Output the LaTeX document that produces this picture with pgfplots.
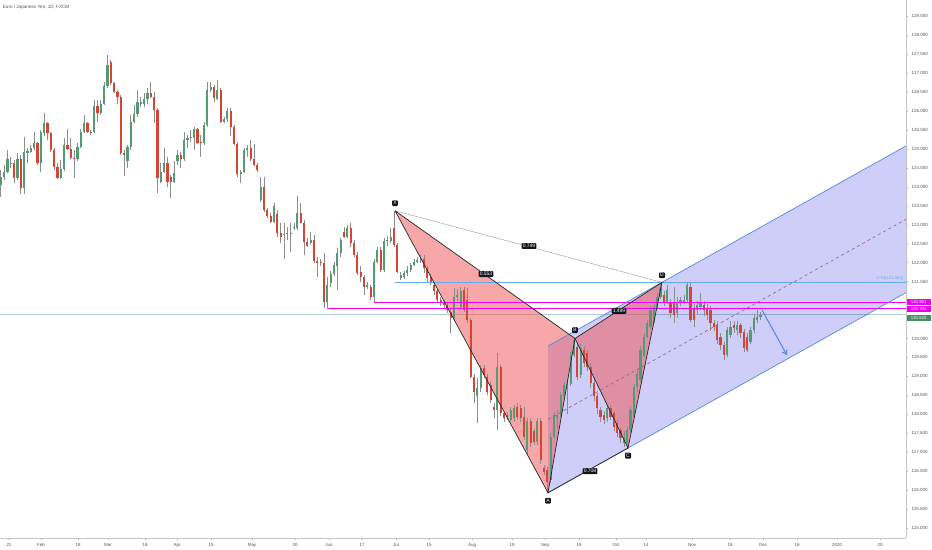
\documentclass[border=0pt]{standalone}
\usepackage{pgfplots}
\pgfplotsset{compat=1.18}
\usepackage{pgfplotstable}
\usepackage{fontspec}
\setmainfont{Liberation Sans}
\usetikzlibrary{arrows.meta}

\definecolor{upc}{RGB}{83,155,117}
\definecolor{dnc}{RGB}{214,69,52}
\definecolor{wickc}{RGB}{140,140,140}
\definecolor{chanc}{RGB}{80,80,235}
\definecolor{chanline}{RGB}{80,135,225}
\definecolor{tric}{RGB}{240,80,80}
\definecolor{magc}{RGB}{240,0,240}
\definecolor{hlblue}{RGB}{100,170,235}
\definecolor{curc}{RGB}{175,205,200}
\definecolor{curbox}{RGB}{70,140,100}
\definecolor{labc}{RGB}{20,22,30}
\definecolor{axc}{RGB}{80,83,94}
\definecolor{midc}{RGB}{150,90,130}

\tikzset{lab/.style={fill=labc, rounded corners=1bp, text=white, inner sep=1.2bp,
    font=\fontsize{5}{5.5}\selectfont}}

\pgfplotstableread{
n o h l c
1 124.05 124.45 123.74 124.27
2 124.27 124.58 124.18 124.40
3 124.40 124.97 124.36 124.73
4 124.60 124.80 124.49 124.64
5 124.62 124.71 124.09 124.24
6 124.24 124.89 124.18 124.73
7 124.73 124.84 123.81 123.96
8 123.96 125.32 123.81 124.93
9 124.90 125.02 124.62 124.95
10 124.93 125.10 124.89 125.03
11 125.03 125.46 124.97 125.15
12 125.15 125.19 124.58 124.62
13 124.62 125.50 124.40 125.46
14 125.41 125.94 125.34 125.68
15 125.68 125.72 125.24 125.41
16 125.41 125.46 124.93 124.97
17 124.97 125.02 124.45 124.53
18 124.53 124.62 124.20 124.24
19 124.24 124.71 124.20 124.46
20 124.46 125.28 124.43 125.10
21 125.10 125.54 124.97 125.00
22 125.00 125.28 124.73 124.77
23 124.77 124.97 124.24 124.73
24 124.73 125.15 124.67 125.06
25 125.06 125.54 125.02 125.46
26 125.46 125.90 125.41 125.68
27 125.68 125.72 125.41 125.46
28 125.46 125.50 125.37 125.41
29 125.46 126.29 125.41 126.13
30 126.13 126.29 125.72 125.94
31 125.94 126.29 125.90 126.20
32 126.20 126.77 126.16 126.66
33 126.66 127.48 126.60 127.21
34 127.30 127.35 126.69 126.73
35 126.73 126.77 126.47 126.51
36 126.51 126.56 126.20 126.38
37 126.38 126.42 124.84 124.89
38 124.89 124.97 124.29 124.84
39 124.67 125.10 124.49 125.04
40 125.04 125.90 124.97 125.72
41 125.72 126.16 125.68 125.91
42 125.91 126.56 125.85 126.25
43 126.20 126.38 126.12 126.25
44 126.20 126.47 126.12 126.32
45 126.32 126.60 126.20 126.47
46 126.47 126.77 126.34 126.38
47 126.38 126.51 125.68 126.03
48 126.03 126.07 123.85 124.23
49 124.14 124.62 124.09 124.40
50 124.40 125.02 124.36 124.62
51 124.62 124.80 124.00 124.14
52 124.27 124.31 123.70 124.14
53 124.14 124.67 124.09 124.36
54 124.67 124.97 124.58 124.84
55 124.84 124.93 124.49 124.73
56 124.73 125.46 124.67 125.24
57 125.24 125.37 125.02 125.28
58 125.28 125.50 125.19 125.29
59 125.28 125.59 124.97 125.52
60 125.52 125.55 125.13 125.17
61 125.17 125.37 124.80 125.15
62 125.15 125.72 125.11 125.63
63 125.63 126.78 125.59 126.56
64 126.56 126.78 126.51 126.64
65 126.64 126.69 126.25 126.34
66 126.31 126.82 126.29 126.56
67 126.56 126.60 125.68 125.70
68 125.70 125.85 125.68 125.78
69 125.78 126.07 125.72 126.01
70 126.01 126.07 125.33 125.59
71 125.59 125.63 125.11 125.13
72 125.13 125.19 124.27 124.33
73 124.33 124.45 124.11 124.38
74 124.38 125.02 124.36 124.97
75 124.97 125.11 124.80 125.02
76 125.02 125.24 124.69 124.73
77 124.73 125.13 124.55 124.58
78 124.58 124.62 124.40 124.45
79 123.65 124.27 123.61 124.01
80 124.01 124.27 123.35 123.39
81 123.39 123.43 123.18 123.22
82 123.24 123.31 123.04 123.08
83 123.08 123.57 123.04 123.50
84 123.29 123.39 122.69 122.79
85 122.79 123.04 122.51 122.69
86 122.73 123.04 122.11 122.77
87 122.76 122.95 122.60 122.78
88 122.76 123.04 122.29 122.79
89 122.91 123.04 122.86 122.93
90 122.91 123.76 122.86 123.32
91 123.32 123.57 123.04 123.06
92 123.06 123.13 122.20 122.55
93 122.55 122.64 122.42 122.44
94 122.51 122.82 122.47 122.60
95 122.60 122.73 121.98 122.05
96 122.05 122.16 121.63 122.00
97 122.00 122.10 121.90 121.98
98 122.00 122.25 120.80 120.95
99 120.95 121.63 120.784 121.41
100 121.47 121.79 121.35 121.70
101 121.70 122.03 121.65 121.94
102 121.90 122.38 121.28 122.25
103 122.25 122.64 122.16 122.60
104 122.82 122.95 122.64 122.69
105 122.69 122.99 122.64 122.91
106 122.91 123.04 122.42 122.51
107 122.51 122.60 122.16 122.20
108 122.20 122.29 121.68 121.72
109 121.76 121.90 121.50 121.61
110 121.61 121.68 121.15 121.37
111 121.37 121.50 121.30 121.41
112 121.37 121.41 121.02 121.10
113 121.10 122.11 120.951 122.03
114 122.03 122.42 121.98 122.34
115 122.34 122.42 121.76 121.81
116 121.81 122.64 121.76 122.56
117 122.56 122.70 122.45 122.58
118 122.58 122.91 122.51 122.69
119 122.91 123.37 122.42 122.47
120 122.47 122.51 121.72 121.76
121 121.59 121.76 121.54 121.68
122 121.62 121.78 121.56 121.72
123 121.72 121.90 121.66 121.82
124 121.80 122.00 121.76 121.94
125 121.94 122.10 121.90 122.03
126 122.03 122.16 121.98 122.07
127 122.07 122.20 122.00 122.11
128 122.11 122.20 121.72 121.85
129 121.85 121.90 121.50 121.59
130 121.63 121.70 121.40 121.50
131 121.41 121.50 121.15 121.24
132 121.24 121.30 120.95 121.02
133 121.02 121.10 120.85 120.93
134 120.95 121.02 120.78 120.88
135 120.88 120.95 120.68 120.75
136 120.71 120.80 120.14 120.53
137 120.53 121.32 120.45 121.10
138 121.10 121.30 121.00 121.15
139 120.84 121.37 120.78 121.24
140 121.28 121.37 120.70 120.75
141 121.02 121.32 120.40 120.49
142 120.49 120.55 118.95 118.99
143 118.99 119.05 118.30 118.60
144 118.47 118.95 117.76 118.69
145 118.69 119.30 118.60 119.21
146 119.21 119.30 118.95 119.04
147 118.99 119.05 118.50 118.60
148 118.77 118.85 118.30 118.38
149 118.20 118.30 117.90 118.11
150 118.11 119.61 117.59 119.26
151 119.26 119.30 117.95 118.03
152 118.03 118.10 117.80 117.89
153 117.98 118.05 117.85 117.94
154 117.85 118.20 117.80 118.11
155 117.89 118.25 117.80 118.16
156 118.20 118.30 117.85 117.94
157 118.16 118.25 117.80 117.89
158 117.94 118.20 117.32 117.41
159 117.06 117.90 116.95 117.81
160 117.81 117.90 117.15 117.23
161 117.55 117.60 117.20 117.28
162 117.28 117.90 117.20 117.81
163 117.81 117.90 116.70 116.79
164 116.57 116.65 116.40 116.49
165 116.53 116.60 115.93 116.22
166 116.27 117.50 116.20 117.41
167 117.41 118.05 117.35 117.98
168 117.89 118.10 117.60 117.98
169 117.98 118.60 117.90 118.51
170 118.47 118.85 118.40 118.77
171 118.77 118.95 118.00 118.81
172 118.81 119.65 118.75 119.56
173 119.56 120.00 119.50 119.95
174 119.78 119.90 118.90 118.99
175 119.04 119.85 118.95 119.74
176 119.70 119.80 119.25 119.35
177 119.61 119.70 119.15 119.26
178 119.26 119.35 118.70 118.82
179 118.82 118.95 118.35 118.47
180 118.47 118.55 118.00 118.16
181 118.11 118.20 117.80 117.94
182 117.98 118.10 117.75 117.85
183 117.89 118.25 117.80 118.16
184 118.16 118.25 117.85 117.94
185 118.03 118.10 117.55 117.67
186 117.76 117.85 117.40 117.50
187 117.59 117.65 117.25 117.37
188 117.23 117.55 117.15 117.41
189 117.23 117.70 117.12 117.59
190 117.59 118.20 117.50 118.11
191 117.94 118.80 117.90 118.73
192 118.73 119.20 118.60 119.05
193 118.90 119.80 118.85 119.70
194 119.55 120.15 119.50 120.05
195 120.05 120.50 120.00 120.40
196 120.30 120.85 120.25 120.75
197 120.44 120.95 120.40 120.84
198 120.84 121.20 120.80 121.10
199 121.10 121.48 121.05 121.37
200 121.15 121.25 120.85 120.93
201 120.97 121.40 120.90 121.28
202 120.97 121.05 120.55 120.66
203 120.97 121.37 120.40 120.62
204 120.66 121.10 120.55 120.97
205 120.93 121.10 120.85 121.02
206 120.97 121.15 120.90 121.02
207 121.02 121.50 120.95 121.41
208 121.37 121.50 120.44 120.49
209 120.80 120.90 120.30 120.49
210 120.75 121.00 120.65 120.88
211 120.84 121.19 120.75 120.93
212 120.88 121.00 120.60 120.75
213 120.80 120.90 120.50 120.62
214 120.75 120.85 120.20 120.40
215 120.40 120.50 120.20 120.31
216 120.35 120.45 119.85 119.96
217 120.05 120.15 119.70 119.83
218 119.83 119.90 119.43 119.56
219 119.56 120.30 119.50 120.22
220 120.09 120.45 120.00 120.31
221 120.35 120.45 120.15 120.27
222 120.22 120.45 120.10 120.35
223 120.35 120.40 120.00 120.14
224 120.18 120.25 119.65 119.74
225 120.05 120.15 119.65 119.70
226 119.92 120.30 119.85 120.22
227 120.22 120.65 120.15 120.53
228 120.49 120.75 120.40 120.58
229 120.58 120.70 120.50 120.625
}\candles

\begin{document}
\begin{tikzpicture}
\useasboundingbox (0,0) rectangle (932bp,550bp);
\begin{axis}[
  at={(0,550bp)}, anchor=north west,
  scale only axis, width=906bp, height=538bp,
  xmin=0, xmax=906, ymin=114.736, ymax=128.931,
  clip=false,
  axis x line=bottom, axis y line=right,
  axis line style={-, draw=gray!45, line width=0.6bp},
  tick style={draw=gray!60, line width=0.4bp},
  major tick length=2bp, tick align=outside,
  xtick={9,41,78,108,145,177,211,252,295,329,362,396,429,472,512,545,579,616,646,692,730,763,797,837,880},
  xticklabels={21,Feb,18,Mar,18,Apr,15,May,20,Jun,17,Jul,15,Aug,19,Sep,16,Oct,14,Nov,18,Dec,16,2020,20},
  ytick={115,115.5,116,116.5,117,117.5,118,118.5,119,119.5,120,121.5,122,122.5,123,123.5,124,124.5,125,125.5,126,126.5,127,127.5,128,128.5},
  /pgf/number format/assume math mode=true,
  yticklabel style={font=\fontsize{4.5}{5}\selectfont, color=axc, inner sep=1.5bp, xshift=2bp,
    /pgf/number format/fixed, /pgf/number format/fixed zerofill,
    /pgf/number format/precision=3, /pgf/number format/1000 sep={}},
  xticklabel style={font=\fontsize{4.5}{5}\selectfont, color=axc, inner sep=1.5bp, yshift=-2bp},
]
% current price line
\addplot[curc, line width=0.6bp] coordinates {(0,120.625) (906,120.625)};
% channel fill
\addplot[draw=none, fill=chanc, fill opacity=0.28] coordinates {(548,115.93) (906,121.21) (906,125.08) (548,119.80)} -- cycle;
% pattern triangles
\addplot[draw=none, fill=tric, fill opacity=0.5] coordinates {(395,123.37) (548,115.93) (575,120.00)} -- cycle;
\addplot[draw=none, fill=tric, fill opacity=0.5] coordinates {(575,120.00) (628,117.11) (662,121.48)} -- cycle;
% wicks
\addplot[draw=none, mark=none,
  error bars/.cd, y dir=plus, y explicit, error mark=none,
  error bar style={draw=wickc, line width=0.6bp}]
  table[x expr={0.7+(\thisrow{n}-1)*3.333}, y=l, y error plus expr={\thisrow{h}-\thisrow{l}}] {\candles};
% up bodies
\addplot[draw=none, mark=none,
  restrict expr to domain={\thisrow{c}-\thisrow{o}}{0:100},
  error bars/.cd, y dir=plus, y explicit, error mark=none,
  error bar style={draw=upc, line width=2.3bp}]
  table[x expr={0.7+(\thisrow{n}-1)*3.333}, y expr={min(\thisrow{o},\thisrow{c})},
        y error plus expr={max(abs(\thisrow{c}-\thisrow{o}),0.03)}] {\candles};
% down bodies
\addplot[draw=none, mark=none,
  restrict expr to domain={\thisrow{c}-\thisrow{o}}{-100:-0.00001},
  error bars/.cd, y dir=plus, y explicit, error mark=none,
  error bar style={draw=dnc, line width=2.3bp}]
  table[x expr={0.7+(\thisrow{n}-1)*3.333}, y expr={min(\thisrow{o},\thisrow{c})},
        y error plus expr={max(abs(\thisrow{c}-\thisrow{o}),0.03)}] {\candles};
% horizontal levels
\addplot[hlblue, line width=1.1bp] coordinates {(395,121.482) (906,121.482)};
\addplot[magc, line width=1.2bp] coordinates {(374,120.951) (906,120.951)};
\addplot[magc, line width=1.2bp] coordinates {(328,120.784) (906,120.784)};
% channel lines
\addplot[chanline, line width=0.7bp] coordinates {(548,115.93) (906,121.21)};
\addplot[chanline, line width=0.7bp] coordinates {(548,119.80) (906,125.08)};
\addplot[midc, line width=0.6bp, dash pattern=on 3bp off 3bp] coordinates {(548,117.865) (906,123.145)};
% pattern lines
\addplot[gray!70, line width=0.5bp] coordinates {(395,123.37) (662,121.48)};
\addplot[black!85, line width=0.7bp] coordinates {(395,123.37) (548,115.93) (575,120.00) (395,123.37)};
\addplot[black!85, line width=0.7bp] coordinates {(575,120.00) (628,117.11) (662,121.48) (575,120.00)};
\addplot[black!85, line width=0.7bp] coordinates {(548,115.93) (628,117.11)};
% arrow
\addplot[chanline, line width=1bp, -{Straight Barb[length=4bp,width=5bp]}] coordinates {(762,120.75) (787,119.56)};
% labels
\node[lab] at (axis cs:395,123.57) {X};
\node[lab] at (axis cs:548,115.72) {A};
\node[lab] at (axis cs:575,120.22) {B};
\node[lab] at (axis cs:628,116.91) {C};
\node[lab] at (axis cs:662,121.67) {D};
\node[lab] at (axis cs:529,122.44) {0.749};
\node[lab] at (axis cs:486,121.70) {0.553};
\node[lab] at (axis cs:619,120.73) {1.499};
\node[lab] at (axis cs:590,116.50) {0.708};
\node[anchor=south east, inner sep=0.5bp, text=hlblue, font=\fontsize{4.3}{4.5}\selectfont] at (axis cs:904,121.51) {0.75(121.482)};
% price boxes
\node[anchor=west, fill=magc, text=white, inner sep=0pt, minimum width=24bp, minimum height=6bp, font=\fontsize{4.3}{4.5}\selectfont] at (axis cs:906.5,120.965) {120.951};
\node[anchor=west, fill=magc, text=white, inner sep=0pt, minimum width=24bp, minimum height=6bp, font=\fontsize{4.3}{4.5}\selectfont] at (axis cs:906.5,120.785) {120.784};
\node[anchor=west, fill=curbox, text=white, inner sep=0pt, minimum width=24bp, minimum height=6bp, font=\fontsize{4.3}{4.5}\selectfont] at (axis cs:906.5,120.55) {120.625};
% title
\node[anchor=west, text=axc, inner sep=0pt, font=\fontsize{4.6}{5}\selectfont] at (rel axis cs:0.003,0.987) {Euro / Japanese Yen, 1D, FXCM};
\end{axis}
\end{tikzpicture}
\end{document}
